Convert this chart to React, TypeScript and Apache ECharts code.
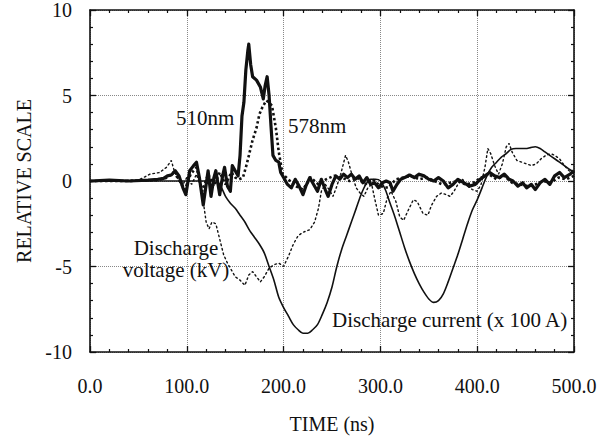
import React, { useEffect, useRef } from "react";
import * as echarts from "echarts";

// ---- data (time in ns, value in relative scale) ----
const t510 = [0,20,40,60,70,76,80,84,88,92,96,99,103,107,110,113,117,120,122,125,128,130,134,137,139,142,145,147,150,153,
  155,157,159,161,163,164,166,168,172,176,179,181,183,185,187,189,192,195,197,200,
  204,208,212,216,220,223,227,231,235,239,243,246,250,254,258,262,266,270,274,278,282,286,290,294,298,302,306,310,313,317,
  321,325,330,335,340,345,350,355,360,365,370,375,380,386,392,398,403,408,413,418,423,428,433,437,442,447,451,456,460,465,
  470,475,480,485,490,496,500];
const v510 = [0,0.05,0,0.05,0.1,0.15,0.3,0.35,0.6,0.3,-0.4,-0.8,0.6,0.9,1.1,0.2,-1.4,-0.2,0.6,-0.9,0.2,0.6,-0.8,0.3,0.8,-0.3,-0.6,0.9,0.6,0.3,
  1.5,3.8,4.6,6.5,7.6,8.0,6.8,6.1,5.9,5.5,4.8,5.6,6.1,5.0,3.2,1.5,1.2,1.1,0.5,0.2,
  -0.2,-0.4,0.1,-0.3,-0.8,-0.3,0.2,-0.2,-0.6,0.1,-0.5,-0.9,-0.2,0.3,0.1,0.4,0.2,0.4,0.1,0.3,-0.1,0.2,-0.2,-0.1,-0.4,-0.1,0.0,-0.1,-0.6,-0.2,
  0.1,0.2,0.35,0.2,0.4,0.3,0.1,0.0,0.2,0.0,-0.4,-0.2,0.1,-0.1,-0.3,-0.2,0.1,0.3,0.5,0.3,0.2,0.4,0.1,0.0,-0.3,-0.1,-0.4,-0.2,-0.5,-0.1,
  0.1,-0.2,0.3,0.5,0.2,0.4,0.6];

const t578 = [0,40,70,80,86,92,98,104,110,116,122,128,134,140,146,150,154,158,162,165,168,172,175,178,182,185,188,192,195,199,
  205,212,220,228,236,244,252,260,268,276,284,292,300,308,316,324,332,340,348,356,364,372,380,388,396,404,412,420,428,436,
  444,452,460,468,476,484,492,500];
const v578 = [0,0,0.05,0.2,0.5,0.1,-0.5,0.4,0.8,-0.6,0.4,-0.3,0.5,-0.2,0.5,0.2,0.1,0.2,1.0,1.7,2.4,3.1,3.9,4.3,4.7,4.6,4.4,3.1,1.7,0.4,
  0.1,-0.3,-0.5,0.2,-0.2,0.1,0.3,0.2,0.0,0.2,-0.2,0.1,-0.3,-0.4,0.1,0.2,0.3,0.1,0.2,0.0,-0.2,-0.1,0.0,-0.2,-0.1,0.2,0.4,0.1,0.3,-0.1,
  -0.2,-0.3,-0.2,0.0,-0.1,0.2,0.1,0.3];

const tVoltage = [0,50,62,72,79,84,87,91,95,100,105,110,114,117,120,123,126,130,134,138,142,146,150,155,160,164,168,172,176,180,
  185,190,195,200,205,210,215,220,227,232,236,239,243,247,251,255,259,264,267,271,275,279,283,287,291,294,298,303,307,311,
  316,320,324,328,334,338,344,349,353,358,363,368,372,376,380,385,390,395,400,404,408,411,414,418,422,426,430,433,436,441,
  446,451,456,461,466,471,476,480,485,490,495,500];
const vVoltage = [0,0.05,0.4,0.5,0.8,1.2,0.6,0.1,-0.3,0.2,-0.2,0.4,-0.3,-1.2,-2.4,-2.8,-2.4,-2.5,-3.4,-4.3,
  -4.8,-5.2,-5.6,-5.8,-6.1,-5.5,-5.3,-5.6,-5.9,-5.6,-5.1,-4.9,-4.8,-5.0,-4.4,-3.7,-3.2,-3.0,-2.85,-2.4,
  -1.6,-0.6,-0.2,-0.5,-0.9,-0.3,0.4,1.5,1.1,0.3,-0.4,-0.7,-0.9,-0.4,-0.2,-1.0,-2.0,-1.9,-1.0,-0.6,
  -1.2,-2.1,-2.3,-1.8,-1.1,-1.2,-1.9,-2.0,-1.4,-0.9,-0.7,-0.8,-0.9,-0.6,-0.2,0.1,-0.3,-0.5,-0.6,-0.2,
  0.8,1.9,1.6,0.9,0.4,1.0,2.0,2.2,1.7,1.2,1.1,1.0,0.9,1.0,1.3,1.5,1.6,1.5,1.3,0.9,0.6,0.4];

const tCurrent = [0,130,135,140,145,150,155,160,165,170,175,180,185,190,195,200,205,210,215,220,225,230,235,240,245,250,
  255,260,265,270,275,280,285,290,295,300,305,310,315,320,325,330,335,340,345,350,355,360,365,370,375,380,385,390,395,400,
  405,410,415,420,425,430,435,440,445,450,455,460,465,470,475,480,485,490,495,500];
const vCurrent = [0,0,-0.3,-0.9,-1.3,-1.6,-2.0,-2.4,-2.9,-3.3,-3.7,-4.2,-5.0,-5.8,-6.8,-7.4,-7.9,-8.4,-8.7,-8.9,-8.9,-8.7,-8.4,-7.8,-7.1,-6.2,
  -5.0,-4.0,-3.2,-2.4,-1.6,-0.8,-0.2,0.1,0.1,0.0,-0.5,-1.3,-2.1,-3.0,-3.9,-4.7,-5.4,-6.0,-6.5,-6.9,-7.1,-7.0,-6.6,-5.9,-5.1,-4.3,-3.4,-2.5,-1.7,-1.1,
  -0.4,0.3,0.8,1.1,1.4,1.6,1.85,1.9,1.9,1.9,1.95,2.0,1.9,1.7,1.5,1.3,1.1,0.9,0.7,0.5];

const xTickLabels = ["0.0", "100.0", "200.0", "300.0", "400.0", "500.0"];
const xAxisTitle = "TIME (ns)";
const yAxisTitle = "RELATIVE SCALE";

const zip = (t: number[], v: number[]) => t.map((x, i) => [x, v[i]]);

const SERIF = "Liberation Serif";
const INK = "#111";

export default function App() {
  const ref = useRef<HTMLDivElement>(null);
  useEffect(() => {
    if (!ref.current) return;
    const chart = echarts.init(ref.current, undefined, { renderer: "svg" });
    const tickStyle = { show: true, inside: true, length: 6, lineStyle: { color: INK, width: 1.3 } };
    const minorTick = { show: true, splitNumber: 5, length: 3, lineStyle: { color: INK, width: 1.2 } };
    const axisLine = { show: true, onZero: false, lineStyle: { color: INK, width: 1.6 } };
    const grid = { type: "dotted" as const, color: "#888", width: 1 };
    const font = { fontFamily: SERIF, fontSize: 20, color: INK };
    const note = (text: string, x: number, y: number, align: string) => ({
      type: "text", x, y, z: 10,
      style: { text, fontFamily: SERIF, fontSize: 21, fill: INK, textAlign: align, textVerticalAlign: "middle" },
    });
    chart.setOption({
      animation: false,
      backgroundColor: "#fff",
      textStyle: { fontFamily: SERIF },
      grid: { left: 90, right: 40, top: 10, bottom: 84, containLabel: false },
      xAxis: [
        {
          type: "value", position: "bottom", min: 0, max: 500, interval: 100,
          axisLine, axisTick: tickStyle, minorTick,
          splitLine: { show: true, lineStyle: grid },
          axisLabel: { ...font, margin: 24, formatter: (v: number) => xTickLabels[Math.round(v / 100)] },
          name: xAxisTitle, nameLocation: "middle", nameGap: 62,
          nameTextStyle: { ...font },
        },
        {
          type: "value", position: "top", min: 0, max: 500, interval: 100,
          axisLine, axisTick: tickStyle, minorTick,
          splitLine: { show: false }, axisLabel: { show: false },
        },
      ],
      yAxis: [
        {
          type: "value", position: "left", min: -10, max: 10, interval: 5,
          axisLine, axisTick: tickStyle, minorTick,
          splitLine: { show: true, lineStyle: grid },
          axisLabel: { ...font, margin: 18 },
          name: yAxisTitle, nameLocation: "middle", nameGap: 55,
          nameTextStyle: { ...font },
        },
        {
          type: "value", position: "right", min: -10, max: 10, interval: 5,
          axisLine, axisTick: tickStyle, minorTick,
          splitLine: { show: false }, axisLabel: { show: false },
        },
      ],
      series: [
        {
          name: "Discharge voltage (kV)", type: "line", data: zip(tVoltage, vVoltage),
          showSymbol: false, z: 2,
          lineStyle: { color: INK, width: 1.4, type: [1.6, 3], cap: "round" },
        },
        {
          name: "Discharge current (x 100 A)", type: "line", data: zip(tCurrent, vCurrent),
          showSymbol: false, z: 3, smooth: 0.3,
          lineStyle: { color: INK, width: 1.6 },
        },
        {
          name: "578nm", type: "line", data: zip(t578, v578),
          showSymbol: false, z: 4,
          lineStyle: { color: INK, width: 2.6, type: [2.5, 2.5] },
        },
        {
          name: "510nm", type: "line", data: zip(t510, v510),
          showSymbol: false, z: 5,
          lineStyle: { color: INK, width: 3.2, join: "round" },
        },
      ],
      graphic: [
        note("510nm", 176, 118, "left"),
        note("578nm", 288, 126, "left"),
        note("Discharge", 176, 248, "center"),
        note("voltage (kV)", 176, 270, "center"),
        note("Discharge current (x 100 A)", 332, 320, "left"),
      ],
    });
    return () => chart.dispose();
  }, []);
  return <div ref={ref} style={{ position: "fixed", left: 0, top: 0, width: 614, height: 439 }} />;
}
